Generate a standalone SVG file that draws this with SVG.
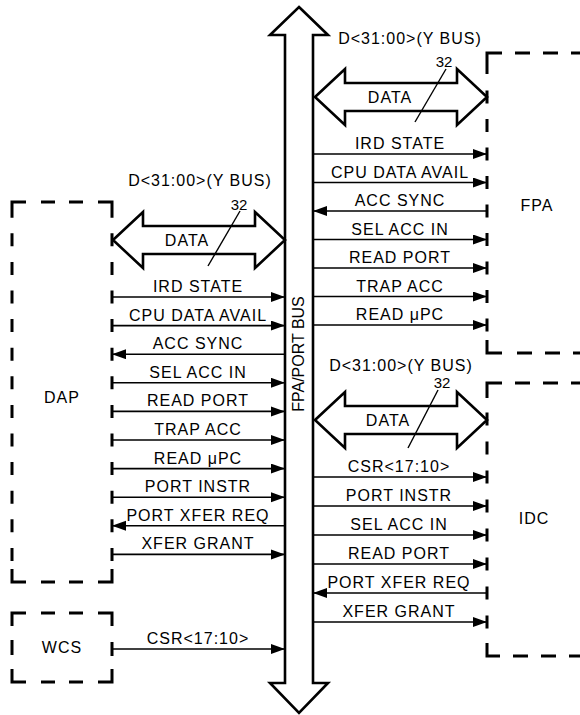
<svg xmlns="http://www.w3.org/2000/svg" width="580" height="715" viewBox="0 0 580 715">
<defs>
<style>
.box{fill:none;stroke:#000;stroke-width:3;stroke-linecap:butt;stroke-linejoin:miter}
.dv{stroke-dasharray:13 15.6}
.dv2{stroke-dasharray:13 15.5}
.dv3{stroke-dasharray:13 16}
.dh{stroke-dasharray:14 14}
.dh2{stroke-dasharray:15 13}
.sig{fill:none;stroke:#000;stroke-width:1.6;marker-end:url(#ah)}
.fat{fill:#fff;stroke:#000;stroke-width:2.6;stroke-linejoin:miter}
.slash{stroke:#000;stroke-width:1.4}
text{font-family:"Liberation Sans",Arial,sans-serif;font-size:16px;letter-spacing:1px;fill:#000;text-anchor:middle}
.n{font-size:15px;letter-spacing:0}
</style>
<marker id="ah" markerUnits="userSpaceOnUse" markerWidth="15" markerHeight="11" refX="14" refY="5" orient="auto">
<path d="M0,0 L14,5 L0,10 Z" fill="#000"/>
</marker>
</defs>
<rect width="580" height="715" fill="#fff"/>

<g id="bus">
<polygon class="fat" points="299,7 328,35 313,35 313,683 328,683 299,713 270,683 285,683 285,35 270,35"/>
<text transform="translate(304,354) rotate(-90)" style="letter-spacing:0">FPA/PORT BUS</text>
</g>

<g id="DAP">
<path class="box" d="M12,217.7 V202 H26 M98,202 H112 V217.7 M12,569 V582 H26 M98,582 H112 V569"/>
<path class="box dh" d="M41,202 H83 M41,582 H83"/>
<path class="box dv" d="M12,233.3 V560.9 M112,233.3 V560.9"/>
<text x="62" y="403">DAP</text>
</g>

<g id="WCS">
<path class="box" d="M12,626 V613 H26 M98,613 H112 V626 M12,669 V682 H26 M98,682 H112 V669 M12,640 V655 M112,642 V656"/>
<path class="box dh" d="M41,613 H83 M41,682 H83"/>
<text x="62" y="653">WCS</text>
</g>

<g id="FPA">
<path class="box" d="M487,74 V53 H502 M487,340 V353 H502"/>
<path class="box dh2" d="M515,53 H590 M517,353 H590"/>
<path class="box dv2" d="M487,90.5 V331.5"/>
<text x="537" y="211">FPA</text>
</g>

<g id="IDC">
<path class="box" d="M487,398 V383 H502 M487,643 V656 H500"/>
<path class="box dh2" d="M515,383 H590 M513,656 H590"/>
<path class="box dv3" d="M487,412.5 V628.5"/>
<text x="534" y="524">IDC</text>
</g>

<g id="connectors">
<polygon class="fat" points="113,240 143,212 143,226 255,226 255,212 285,240 255,268 255,254 143,254 143,268"/>
<text x="187" y="246">DATA</text>
<line class="slash" x1="240" y1="211" x2="208" y2="266"/>
<text class="n" x="239" y="210">32</text>
<text x="200" y="186">D&lt;31:00&gt;(Y BUS)</text>

<polygon class="fat" points="315,97 345,69 345,83 457,83 457,69 487,97 457,125 457,111 345,111 345,125"/>
<text x="390" y="103">DATA</text>
<line class="slash" x1="446" y1="69" x2="415" y2="122"/>
<text class="n" x="444" y="67">32</text>
<text x="410" y="44">D&lt;31:00&gt;(Y BUS)</text>

<polygon class="fat" points="315,420 345,392 345,406 457,406 457,392 487,420 457,448 457,434 345,434 345,448"/>
<text x="388" y="426">DATA</text>
<line class="slash" x1="438" y1="390" x2="408" y2="448"/>
<text class="n" x="442" y="388">32</text>
<text x="401" y="371">D&lt;31:00&gt;(Y BUS)</text>

<line class="sig" x1="112" y1="297" x2="285" y2="297"/>
<text x="198" y="292">IRD STATE</text>
<line class="sig" x1="112" y1="325.6" x2="285" y2="325.6"/>
<text x="198" y="320.6">CPU DATA AVAIL</text>
<line class="sig" x1="285" y1="354.2" x2="112" y2="354.2"/>
<text x="198" y="349.2">ACC SYNC</text>
<line class="sig" x1="112" y1="382.8" x2="285" y2="382.8"/>
<text x="198" y="377.8">SEL ACC IN</text>
<line class="sig" x1="112" y1="411.4" x2="285" y2="411.4"/>
<text x="198" y="406.4">READ PORT</text>
<line class="sig" x1="112" y1="440" x2="285" y2="440"/>
<text x="198" y="435">TRAP ACC</text>
<line class="sig" x1="112" y1="468.6" x2="285" y2="468.6"/>
<text x="198" y="463.6">READ μPC</text>
<line class="sig" x1="112" y1="497.2" x2="285" y2="497.2"/>
<text x="198" y="492.2">PORT INSTR</text>
<line class="sig" x1="285" y1="525.8" x2="112" y2="525.8"/>
<text x="198" y="520.8">PORT XFER REQ</text>
<line class="sig" x1="112" y1="554.4" x2="285" y2="554.4"/>
<text x="198" y="549.4">XFER GRANT</text>

<line class="sig" x1="112" y1="649" x2="285" y2="649"/>
<text x="198" y="644">CSR&lt;17:10&gt;</text>

<line class="sig" x1="313" y1="154" x2="487" y2="154"/>
<text x="400" y="149">IRD STATE</text>
<line class="sig" x1="313" y1="182.5" x2="487" y2="182.5"/>
<text x="400" y="177.5">CPU DATA AVAIL</text>
<line class="sig" x1="487" y1="211" x2="313" y2="211"/>
<text x="400" y="206">ACC SYNC</text>
<line class="sig" x1="313" y1="239.5" x2="487" y2="239.5"/>
<text x="400" y="234.5">SEL ACC IN</text>
<line class="sig" x1="313" y1="268" x2="487" y2="268"/>
<text x="400" y="263">READ PORT</text>
<line class="sig" x1="313" y1="296.5" x2="487" y2="296.5"/>
<text x="400" y="291.5">TRAP ACC</text>
<line class="sig" x1="313" y1="325" x2="487" y2="325"/>
<text x="400" y="320">READ μPC</text>

<line class="sig" x1="313" y1="477" x2="487" y2="477"/>
<text x="399" y="472">CSR&lt;17:10&gt;</text>
<line class="sig" x1="313" y1="506" x2="487" y2="506"/>
<text x="399" y="501">PORT INSTR</text>
<line class="sig" x1="313" y1="535" x2="487" y2="535"/>
<text x="399" y="530">SEL ACC IN</text>
<line class="sig" x1="313" y1="564" x2="487" y2="564"/>
<text x="399" y="559">READ PORT</text>
<line class="sig" x1="487" y1="593" x2="313" y2="593"/>
<text x="399" y="588">PORT XFER REQ</text>
<line class="sig" x1="313" y1="622" x2="487" y2="622"/>
<text x="399" y="617">XFER GRANT</text>
</g>
</svg>
